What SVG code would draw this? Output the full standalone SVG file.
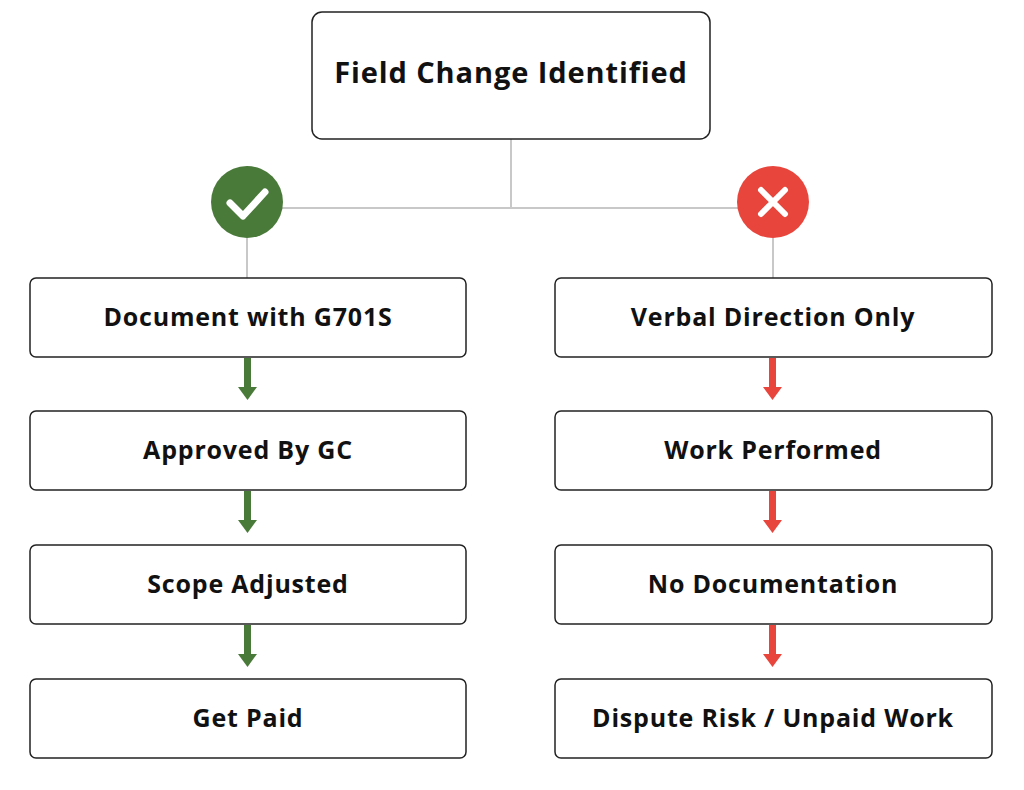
<svg xmlns="http://www.w3.org/2000/svg" width="1024" height="790" viewBox="0 0 1024 790">
<style>
.b{fill:#fff;stroke:#222;stroke-width:1.5}
.t{font-family:"Open Sans","Liberation Sans",sans-serif;font-weight:bold;font-size:25px;letter-spacing:0.8px;fill:#111;text-anchor:middle}
.l{stroke:#c8c8c8;stroke-width:2;fill:none}
.g{fill:#4a7a3a}.r{fill:#e8453c}
</style>
<rect width="1024" height="790" fill="#fff"/>
<g id="connectors">
<path class="l" d="M511 139V208M247 208H773M247 238V278M773 238V278"/>
<g class="g">
<rect x="244" y="358" width="7" height="30"/><path d="M238 387H257L247.5 400Z"/>
<rect x="244" y="491" width="7" height="30"/><path d="M238 520H257L247.5 533Z"/>
<rect x="244" y="625" width="7" height="30"/><path d="M238 654H257L247.5 667Z"/>
</g>
<g class="r">
<rect x="769" y="358" width="7" height="30"/><path d="M763 387H782L772.5 400Z"/>
<rect x="769" y="491" width="7" height="30"/><path d="M763 520H782L772.5 533Z"/>
<rect x="769" y="625" width="7" height="30"/><path d="M763 654H782L772.5 667Z"/>
</g>
</g>
<g id="top"><rect class="b" x="312" y="12" width="398" height="127" rx="10"/><text class="t" x="511" y="83" style="font-size:29px;letter-spacing:0.9px">Field Change Identified</text></g>
<g id="ok"><circle class="g" cx="247" cy="202" r="36"/><path d="M230 203L243 216L265 192" stroke="#fff" stroke-width="7" fill="none" stroke-linecap="round" stroke-linejoin="round"/></g>
<g id="no"><circle class="r" cx="773" cy="202" r="36"/><path d="M761 190L785 214M785 190L761 214" stroke="#fff" stroke-width="6" stroke-linecap="round"/></g>
<g id="l1"><rect class="b" x="30" y="278" width="436" height="79" rx="6"/><text class="t" x="248" y="326">Document with G701S</text></g>
<g id="l2"><rect class="b" x="30" y="411" width="436" height="79" rx="6"/><text class="t" x="248" y="459">Approved By GC</text></g>
<g id="l3"><rect class="b" x="30" y="545" width="436" height="79" rx="6"/><text class="t" x="248" y="593">Scope Adjusted</text></g>
<g id="l4"><rect class="b" x="30" y="679" width="436" height="79" rx="6"/><text class="t" x="248" y="727">Get Paid</text></g>
<g id="r1"><rect class="b" x="555" y="278" width="437" height="79" rx="6"/><text class="t" x="773" y="326">Verbal Direction Only</text></g>
<g id="r2"><rect class="b" x="555" y="411" width="437" height="79" rx="6"/><text class="t" x="773" y="459">Work Performed</text></g>
<g id="r3"><rect class="b" x="555" y="545" width="437" height="79" rx="6"/><text class="t" x="773" y="593">No Documentation</text></g>
<g id="r4"><rect class="b" x="555" y="679" width="437" height="79" rx="6"/><text class="t" x="773" y="727">Dispute Risk / Unpaid Work</text></g>
</svg>
